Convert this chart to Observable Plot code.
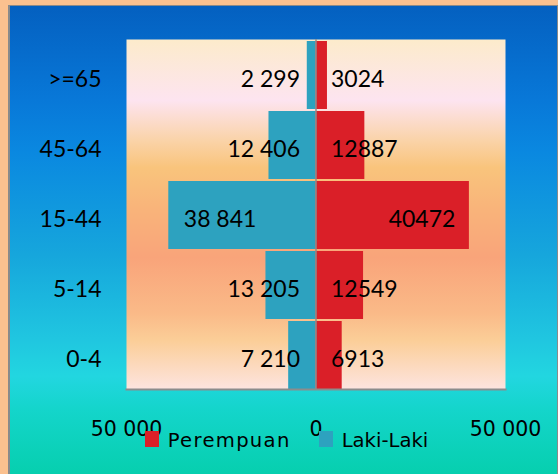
<!DOCTYPE html>
<html>
<head>
<meta charset="utf-8">
<script src="https://cdn.jsdelivr.net/npm/d3@7"></script>
<script src="https://cdn.jsdelivr.net/npm/@observablehq/plot@0.6"></script>
<style>
  html, body { margin: 0; padding: 0; }
  body { width: 558px; height: 474px; overflow: hidden; background: #FBC18F; }
  #wrap { position: relative; width: 558px; height: 474px; background: #FBC18F; }
  #panel {
    position: absolute; left: 8px; top: 5px; width: 547px; height: 469px;
    border-left: 2px solid #8A8A8A; border-top: 1.5px solid #8A8A8A; border-right: 2px solid #8A8A8A;
    background: linear-gradient(to bottom,
      #0460C0 0%, #0878D8 20%, #0A88E0 31%, #16A6DC 53%, #20C6E0 71%,
      #22D6E0 79%, #14D5CB 86%, #06CFAE 100%);
  }
  #chart { position: absolute; left: 0; top: 0; }
  #legend { position: absolute; left: 0; top: 0; pointer-events: none; }
</style>
</head>
<body>
<div id="wrap">
  <div id="panel"></div>
  <div id="chart"></div>
  <svg id="legend" width="558" height="474"></svg>
</div>
<script>
// ---- data ----
const ages = [">=65", "45-64", "15-44", "5-14", "0-4"];
const lakiLaki = [2299, 12406, 38841, 13205, 7210];
const perempuan = [3024, 12887, 40472, 12549, 6913];
const seriesNames = ["Perempuan", "Laki-Laki"];
const seriesColors = ["#DA1F28", "#2DA2BF"];
const xTicks = [-50000, 0, 50000];

const rows = ages.map((a, i) => ({age: a, male: lakiLaki[i], female: perempuan[i]}));
const spaced = d3.formatLocale({thousands: "\u00a0", grouping: [3], decimal: ","}).format(",");
const plain = d3.format("d");
const BIG = 30000;

const labelFont = "Lato, 'Open Sans', sans-serif";
const axisFont = "'DejaVu Sans', sans-serif";

const plot = Plot.plot({
  width: 558,
  height: 474,
  marginLeft: 126,
  marginRight: 53,
  marginTop: 39,
  marginBottom: 85,
  style: {background: "transparent", color: "#000", overflow: "visible"},
  x: {domain: [-50000, 50000]},
  y: {domain: ages, padding: 0},
  marks: [
    Plot.frame({fill: "url(#plotgrad)", stroke: null}),
    Plot.barX(rows, {y: "age", x1: 0, x2: d => -d.male, fill: seriesColors[1], insetTop: 2, insetBottom: 0}),
    Plot.barX(rows, {y: "age", x1: 0, x2: d => d.female, fill: seriesColors[0], insetTop: 2, insetBottom: 0}),
    Plot.ruleX([0], {stroke: "#8C8C8C", strokeWidth: 1.5}),
    Plot.frame({anchor: "bottom", stroke: "#8C8C8C", strokeWidth: 2}),
    // value labels (left / Laki-Laki)
    Plot.text(rows.filter(d => d.male < BIG), {y: "age", x: 0, text: d => spaced(d.male), textAnchor: "end", dx: -16, dy: 5, fontSize: 23, fontFamily: labelFont, fill: "#000"}),
    Plot.text(rows.filter(d => d.male >= BIG), {y: "age", x: d => -d.male, text: d => spaced(d.male), textAnchor: "start", dx: 15, dy: 5, fontSize: 23, fontFamily: labelFont, fill: "#000"}),
    // value labels (right / Perempuan)
    Plot.text(rows.filter(d => d.female < BIG), {y: "age", x: 0, text: d => plain(d.female), textAnchor: "start", dx: 15, dy: 5, fontSize: 23, fontFamily: labelFont, fill: "#000"}),
    Plot.text(rows.filter(d => d.female >= BIG), {y: "age", x: d => d.female, text: d => plain(d.female), textAnchor: "end", dx: -14, dy: 5, fontSize: 23, fontFamily: labelFont, fill: "#000"}),
    Plot.axisY({tickSize: 0, tickPadding: 25, fontSize: 23, fontFamily: labelFont, dy: 5, label: null}),
    Plot.axisX({ticks: xTicks, tickFormat: d => spaced(Math.abs(d)), tickSize: 0, tickPadding: 32, fontSize: 20.5, fontFamily: axisFont, label: null})
  ]
});

plot.insertAdjacentHTML("afterbegin", `<defs>
  <linearGradient id="plotgrad" x1="0" y1="0" x2="0" y2="1">
    <stop offset="0" stop-color="#FCEBCB"/>
    <stop offset="0.174" stop-color="#FDE4F0"/>
    <stop offset="0.289" stop-color="#FAD3A8"/>
    <stop offset="0.366" stop-color="#F9C47C"/>
    <stop offset="0.48" stop-color="#F9B47A"/>
    <stop offset="0.623" stop-color="#F9A47A"/>
    <stop offset="0.783" stop-color="#FABA88"/>
    <stop offset="0.86" stop-color="#FBCE98"/>
    <stop offset="1" stop-color="#FDE4E0"/>
  </linearGradient></defs>`);
document.getElementById("chart").appendChild(plot);

// legend
const lg = d3.select("#legend");
const legendItems = [
  {name: seriesNames[0], color: seriesColors[0], sx: 145, tx: 167.7, ls: 1.3},
  {name: seriesNames[1], color: seriesColors[1], sx: 319, tx: 341.7, ls: 0}
];
for (const it of legendItems) {
  lg.append("rect").attr("x", it.sx).attr("y", 431).attr("width", 14).attr("height", 16).attr("fill", it.color);
  lg.append("text").attr("x", it.tx).attr("y", 447)
    .attr("font-family", axisFont).attr("font-size", 19.6)
    .attr("letter-spacing", it.ls).attr("fill", "#000").text(it.name);
}
</script>
</body>
</html>
